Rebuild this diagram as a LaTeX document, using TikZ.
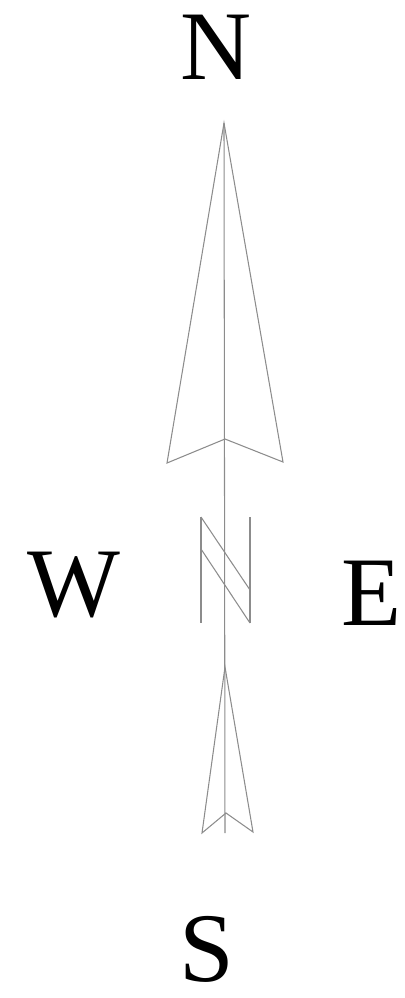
\documentclass[tikz,border=0pt]{standalone}
\usepackage{fontspec}
\setmainfont{Liberation Serif}
\usetikzlibrary{positioning}
\tikzset{
  needle/.style={draw=black!45, line width=0.6pt, line join=miter},
  letter/.style={inner sep=0pt, font=\fontsize{56}{56}\selectfont},
}

\begin{document}
\begin{tikzpicture}[x=0.02cm, y=-0.02cm]
\useasboundingbox (0,0) rectangle (405,998);

% --- north arrow head ---
\coordinate (ntip)   at (224,123);
\coordinate (nleft)  at (167,463);
\coordinate (nnotch) at (225,439);
\coordinate (nright) at (283,462);
\draw[needle] (ntip) -- (nleft) -- (nnotch) -- (nright) -- cycle;

% --- south tail ---
\coordinate (stip)   at (225,667);
\coordinate (sleft)  at (202,833);
\coordinate (snotch) at (226,813);
\coordinate (sright) at (253,832);
\coordinate (send)   at (225,833);
\draw[needle] (stip) -- (sleft) -- (snotch) -- (sright) -- cycle;

% --- shaft ---
\draw[needle] (ntip) -- (send);

% --- small N mark on the shaft ---
\coordinate (ma) at (201,517);
\coordinate (mb) at (201,623);
\coordinate (mc) at (250,517);
\coordinate (md) at (250,623);
\draw[needle] (ma) -- (mb);
\draw[needle] (mc) -- (md);
\draw[needle] (ma) -- (250,590);
\draw[needle] (201,549) -- (md);

% --- cardinal letters ---
\node[letter] (N) at (216,47)  {N};
\node[letter] (W) at (74,585)  {W};
\node[letter] (E) at (372,593) {E};
\node[letter] (S) at (207,949) {S};

\end{tikzpicture}
\end{document}
